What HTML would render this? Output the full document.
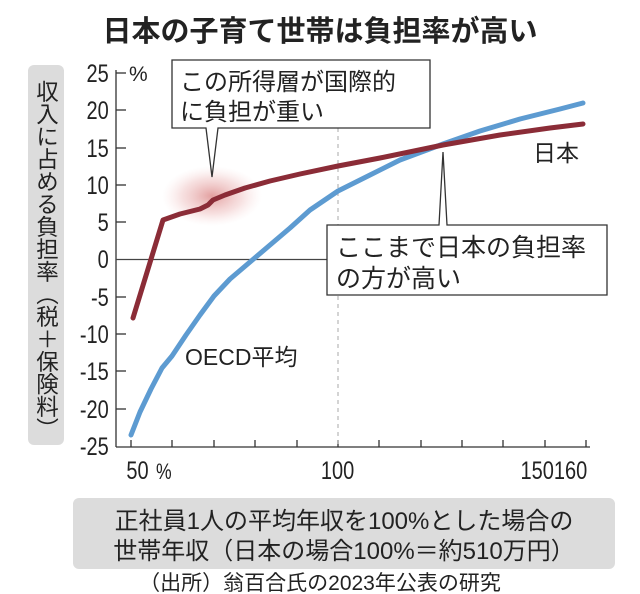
<!DOCTYPE html>
<html><head><meta charset="utf-8"><style>
html,body{margin:0;padding:0;background:#fff;}
svg{display:block;}
text{font-family:"Liberation Sans","Noto Sans CJK JP",sans-serif;fill:#222;}
</style></head><body>
<svg width="640" height="594" viewBox="0 0 640 594" xmlns="http://www.w3.org/2000/svg">
<defs>
<radialGradient id="glow" cx="50%" cy="50%" r="50%">
<stop offset="0%" stop-color="#d98080" stop-opacity="0.75"/>
<stop offset="60%" stop-color="#e8a8a8" stop-opacity="0.35"/>
<stop offset="100%" stop-color="#f5d0d0" stop-opacity="0"/>
</radialGradient>
</defs>
<text x="320" y="41" font-size="29" font-weight="bold" text-anchor="middle">日本の子育て世帯は負担率が高い</text>

<!-- y label box -->
<rect x="28" y="65" width="36" height="380" rx="6" fill="#dcdcdc"/>
<text x="46" y="80" font-size="22.5" writing-mode="tb" glyph-orientation-vertical="0" text-anchor="start">収入に占める負担率（税＋保険料）</text>

<!-- axes -->
<line x1="116" y1="70" x2="116" y2="447" stroke="#333" stroke-width="1.3"/>
<line x1="116" y1="447" x2="590" y2="447" stroke="#333" stroke-width="1.3"/>
<g stroke="#333" stroke-width="1.3">
<line x1="116" y1="73" x2="126" y2="73"/><line x1="116" y1="110" x2="126" y2="110"/>
<line x1="116" y1="148" x2="126" y2="148"/><line x1="116" y1="185" x2="126" y2="185"/>
<line x1="116" y1="222" x2="126" y2="222"/>
<line x1="116" y1="297" x2="126" y2="297"/><line x1="116" y1="334" x2="126" y2="334"/>
<line x1="116" y1="371" x2="126" y2="371"/><line x1="116" y1="409" x2="126" y2="409"/>
<line x1="131" y1="447" x2="131" y2="440"/><line x1="172" y1="447" x2="172" y2="440"/>
<line x1="214" y1="447" x2="214" y2="440"/><line x1="255" y1="447" x2="255" y2="440"/>
<line x1="297" y1="447" x2="297" y2="440"/><line x1="338" y1="447" x2="338" y2="440"/>
<line x1="379" y1="447" x2="379" y2="440"/><line x1="421" y1="447" x2="421" y2="440"/>
<line x1="462" y1="447" x2="462" y2="440"/><line x1="503" y1="447" x2="503" y2="440"/>
<line x1="545" y1="447" x2="545" y2="440"/><line x1="586" y1="447" x2="586" y2="440"/>
</g>
<line x1="116" y1="259.5" x2="590" y2="259.5" stroke="#444" stroke-width="1.2"/>
<line x1="338" y1="128" x2="338" y2="447" stroke="#aaa" stroke-width="1" stroke-dasharray="4,4"/>

<g font-size="25" text-anchor="end" transform="scale(0.8,1)">
<text x="136" y="82">25</text><text x="136" y="119">20</text><text x="136" y="157">15</text>
<text x="136" y="194">10</text><text x="136" y="231">5</text><text x="136" y="268">0</text>
<text x="136" y="306">-5</text><text x="136" y="343">-10</text><text x="136" y="380">-15</text>
<text x="136" y="418">-20</text><text x="136" y="455">-25</text>
</g>
<text x="129" y="81" font-size="21">%</text>
<g font-size="25" transform="scale(0.8,1)">
<text x="158" y="479">50</text><text x="195" y="479" font-size="22">%</text>
<text x="422" y="479" text-anchor="middle">100</text>
<text x="734" y="479" text-anchor="end">150160</text>
</g>

<ellipse cx="212" cy="196" rx="50" ry="30" fill="url(#glow)"/>

<!-- series -->
<polyline fill="none" stroke="#5d9bd1" stroke-width="5" stroke-linecap="round" stroke-linejoin="round"
points="131,435 140,412 151,389 162,368 172,356 186,335 200,315 214,296 230,279 250,262 270,245 290,228 310,210 338,191 370,175 400,160 443,144 480,131 520,119 560,109 583,103"/>
<polyline fill="none" stroke="#8b2c37" stroke-width="5" stroke-linecap="round" stroke-linejoin="round"
points="133,318 163,220 180,214 200,209 208,205 213,200 225,195 245,188 270,181 300,174 338,166 380,158 443,145 500,135 550,128 583,124"/>

<text x="185" y="365" font-size="23">OECD平均</text>
<text x="533" y="161" font-size="23">日本</text>

<!-- callout 1 -->
<path d="M172,60 H430 V128 H218 L212,177 L206,128 H172 Z" fill="#fff" stroke="#333" stroke-width="1.3"/>
<text x="180" y="90" font-size="24">この所得層が国際的</text>
<text x="180" y="120" font-size="24">に負担が重い</text>

<!-- callout 2 -->
<path d="M327,225 H439 L443,152 L447,225 H607 V295 H327 Z" fill="#fff" stroke="#333" stroke-width="1.3"/>
<text x="336" y="256" font-size="25">ここまで日本の負担率</text>
<text x="336" y="287" font-size="25">の方が高い</text>

<!-- x label box -->
<rect x="73" y="498" width="542" height="71" rx="6" fill="#dcdcdc"/>
<text x="344" y="529" font-size="24" text-anchor="middle">正社員1人の平均年収を100%とした場合の</text>
<text x="344" y="559" font-size="24" text-anchor="middle">世帯年収（日本の場合100%＝約510万円）</text>
<text x="320" y="590" font-size="21" text-anchor="middle">（出所）翁百合氏の2023年公表の研究</text>
</svg>
</body></html>
